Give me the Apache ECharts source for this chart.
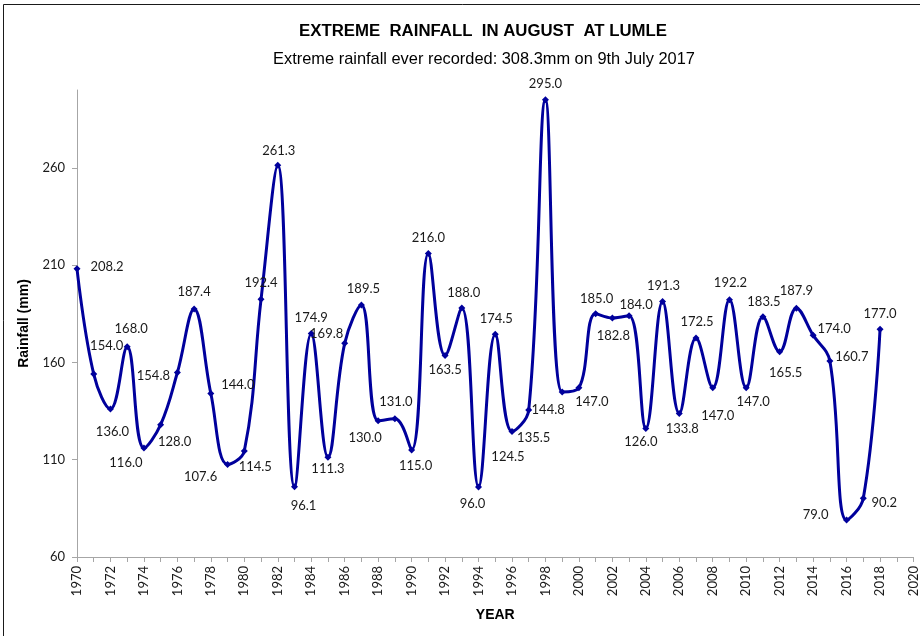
<!DOCTYPE html>
<html>
<head>
<meta charset="utf-8">
<script src="https://cdn.jsdelivr.net/npm/echarts@6/dist/echarts.min.js"></script>
<style>
  html, body { margin: 0; padding: 0; background: #fff; }
  #app { width: 920px; height: 636px; }
</style>
</head>
<body>
<div id="app"></div>
<script>
// yearly extreme August rainfall at Lumle (mm)
const years = [
  1970, 1971, 1972, 1973, 1974, 1975, 1976, 1977, 1978, 1979,
  1980, 1981, 1982, 1983, 1984, 1985, 1986, 1987, 1988, 1989,
  1990, 1991, 1992, 1993, 1994, 1995, 1996, 1997, 1998, 1999,
  2000, 2001, 2002, 2003, 2004, 2005, 2006, 2007, 2008, 2009,
  2010, 2011, 2012, 2013, 2014, 2015, 2016, 2017, 2018
];
const rainfall = [
  208.2, 154.0, 136.0, 168.0, 116.0, 128.0, 154.8, 187.4, 144.0, 107.6,
  114.5, 192.4, 261.3, 96.1, 174.9, 111.3, 169.8, 189.5, 130.0, 131.0,
  115.0, 216.0, 163.5, 188.0, 96.0, 174.5, 124.5, 135.5, 295.0, 144.8,
  147.0, 185.0, 182.8, 184.0, 126.0, 191.3, 133.8, 172.5, 147.0, 192.2,
  147.0, 183.5, 165.5, 187.9, 174.0, 160.7, 79.0, 90.2, 177.0
];
const yTicks = [60, 110, 160, 210, 260];

// where each value label sits relative to its point (px), like the hand-placed excel labels
const labelOffsets = [
  [30, -2], [13, -28], [2, 23], [4, -18], [-18, 15], [14, 17], [-24, 3], [0, -17], [27, -9], [-27, 12],
  [11, 16], [0, -17], [1, -14], [9, 19], [0, -16], [0, 12], [-18, -10], [2, -16], [-13, 17], [1, -17],
  [4, 16], [0, -16], [0, 14], [2, -15], [-6, 17], [1, -15], [-4, 25], [5, 28], [0, -16], [-14, 18],
  [13, 14], [1, -15], [1, 18], [7, -11], [-5, 13], [1, -16], [3, 15], [1, -16], [5, 28], [1, -17],
  [7, 14], [1, -15], [6, 21], [0, -17], [21, -6], [22, -4], [-31, -5], [21, 5], [0, -16]
];

const lineColor = "#00009c";
const axisGray = "#a6a6a6";

const seriesData = years.map((y, i) => ({
  value: [y, rainfall[i]],
  label: { offset: labelOffsets[i] }
}));

const dom = document.getElementById("app");
const myChart = echarts.init(dom);

myChart.setOption({
  animation: false,
  title: [
    {
      text: "EXTREME  RAINFALL  IN AUGUST  AT LUMLE",
      left: 483,
      top: 23,
      padding: 0,
      textAlign: "center",
      textStyle: {
        fontFamily: "Liberation Sans",
        fontSize: 16.8,
        fontWeight: "bold",
        color: "#000"
      }
    },
    {
      text: "Extreme rainfall ever recorded: 308.3mm on 9th July 2017",
      left: 484,
      top: 51,
      padding: 0,
      textAlign: "center",
      textStyle: {
        fontFamily: "Liberation Sans",
        fontSize: 16.4,
        fontWeight: "normal",
        color: "#000"
      }
    }
  ],
  graphic: [
    {
      type: "rect",
      shape: { x: 3.5, y: 4.5, width: 940, height: 660 },
      style: { fill: "none", stroke: "#1a1a1a", lineWidth: 1 },
      silent: true
    }
  ],
  grid: {
    left: 77,
    right: 5,
    top: 90,
    bottom: 79
  },
  xAxis: {
    type: "value",
    min: 1970,
    max: 2020,
    interval: 1,
    name: "YEAR",
    nameLocation: "middle",
    nameGap: 51,
    nameTextStyle: {
      fontFamily: "Liberation Sans",
      fontSize: 14,
      fontWeight: "bold",
      color: "#000"
    },
    splitLine: { show: false },
    axisLine: { lineStyle: { color: axisGray, width: 1 } },
    axisTick: { length: 5, lineStyle: { color: axisGray } },
    axisLabel: {
      rotate: 90,
      margin: 9,
      fontFamily: "Lato",
      fontSize: 13,
      color: "#1a1a1a",
      formatter: (v) => (v % 2 === 0 ? String(v) : "")
    }
  },
  yAxis: {
    type: "value",
    min: 60,
    max: 300,
    name: "Rainfall (mm)",
    nameLocation: "middle",
    nameGap: 36,
    nameTextStyle: {
      fontFamily: "Liberation Sans",
      fontSize: 14,
      fontWeight: "bold",
      color: "#000"
    },
    splitLine: { show: false },
    axisLine: { show: true, lineStyle: { color: axisGray, width: 1 } },
    axisTick: { show: true, length: 5, customValues: yTicks, lineStyle: { color: axisGray } },
    axisLabel: {
      margin: 12,
      fontFamily: "Lato",
      fontSize: 13,
      color: "#1a1a1a",
      customValues: yTicks
    }
  },
  series: [
    {
      name: "Rainfall",
      type: "line",
      smooth: 0.4,
      symbol: "diamond",
      symbolSize: 7,
      lineStyle: { color: lineColor, width: 3 },
      itemStyle: { color: lineColor },
      label: {
        show: true,
        position: "inside",
        fontFamily: "Lato",
        fontSize: 13,
        color: "#1a1a1a",
        formatter: (p) => p.value[1].toFixed(1)
      },
      data: seriesData
    }
  ]
});
</script>
</body>
</html>
